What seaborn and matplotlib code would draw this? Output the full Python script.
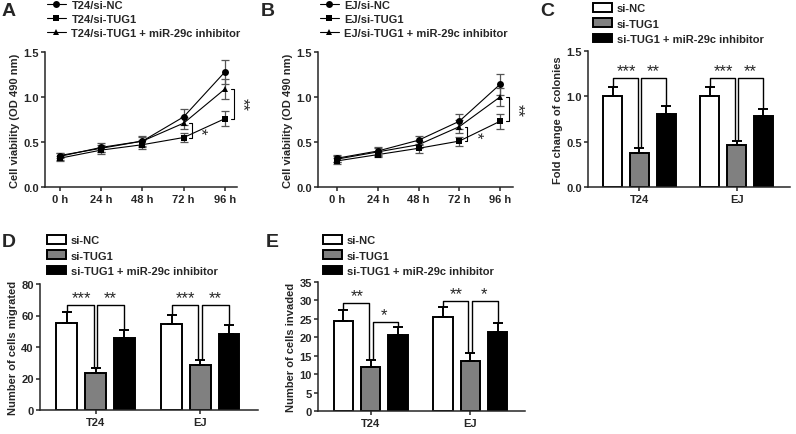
import numpy as np
import pandas as pd
import matplotlib
matplotlib.use('Agg')
import matplotlib.pyplot as plt
import seaborn as sns

# ---- data ----
times = ['0 h', '24 h', '48 h', '72 h', '96 h']
line_groups_A = ['T24/si-NC', 'T24/si-TUG1', 'T24/si-TUG1 + miR-29c inhibitor']
line_groups_B = ['EJ/si-NC', 'EJ/si-TUG1', 'EJ/si-TUG1 + miR-29c inhibitor']

a_nc = [0.34, 0.44, 0.51, 0.78, 1.28]
a_nc_err = [0.04, 0.05, 0.06, 0.09, 0.13]
a_tug = [0.32, 0.41, 0.47, 0.55, 0.76]
a_tug_err = [0.03, 0.04, 0.05, 0.05, 0.08]
a_inh = [0.35, 0.43, 0.51, 0.71, 1.09]
a_inh_err = [0.03, 0.04, 0.05, 0.07, 0.11]

b_nc = [0.32, 0.40, 0.52, 0.73, 1.14]
b_nc_err = [0.04, 0.04, 0.05, 0.08, 0.12]
b_tug = [0.29, 0.36, 0.43, 0.51, 0.73]
b_tug_err = [0.03, 0.03, 0.05, 0.05, 0.08]
b_inh = [0.31, 0.39, 0.47, 0.67, 1.00]
b_inh_err = [0.03, 0.04, 0.04, 0.07, 0.10]

cells = ['T24', 'EJ']
bar_groups = ['si-NC', 'si-TUG1', 'si-TUG1 + miR-29c inhibitor']

c_vals = [[1.00, 1.00], [0.38, 0.46], [0.80, 0.78]]
c_err = [[0.10, 0.10], [0.05, 0.05], [0.09, 0.08]]
d_vals = [[55.5, 54.5], [23.5, 28.5], [45.5, 48.5]]
d_err = [[6.5, 6.0], [3.0, 3.3], [5.5, 5.5]]
e_vals = [[24.5, 25.5], [12.0, 13.7], [20.5, 21.3]]
e_err = [[2.8, 2.8], [1.8, 2.0], [2.4, 2.5]]

# ---- style ----
sns.set_theme(style='ticks')
plt.rcParams['font.family'] = ['Liberation Sans', 'DejaVu Sans']
plt.rcParams['font.weight'] = 'bold'
plt.rcParams['axes.labelweight'] = 'bold'
plt.rcParams['axes.linewidth'] = 1.1
plt.rcParams['xtick.major.width'] = 1.1
plt.rcParams['ytick.major.width'] = 1.1
plt.rcParams['xtick.major.size'] = 3
plt.rcParams['ytick.major.size'] = 3
plt.rcParams['xtick.major.pad'] = 2
plt.rcParams['ytick.major.pad'] = 1.5
FS = 8
STAR = 12

W, H = 796, 435
fig = plt.figure(figsize=(W / 100, H / 100), dpi=100)


def px_axes(l, t, r, b):
    return fig.add_axes([l / W, 1 - b / H, (r - l) / W, (b - t) / H])


def line_panel(ax, groups, means, errs, xlim, legend_xy):
    rows = []
    for g, m in zip(groups, means):
        for i, v in enumerate(m):
            rows.append({'time': i, 'value': v, 'group': g})
    df = pd.DataFrame(rows)
    sns.lineplot(data=df, x='time', y='value', style='group', style_order=groups,
                 markers=['o', 's', '^'], dashes=False, color='black',
                 markersize=5, linewidth=0.8, markeredgewidth=0, ax=ax)
    for m, e in zip(means, errs):
        ax.errorbar(range(len(m)), m, yerr=e, fmt='none', ecolor='#555555',
                    elinewidth=0.9, capsize=2.8, capthick=0.9, zorder=1)
    ax.set_xlim(*xlim)
    ax.set_ylim(0, 1.5)
    ax.set_xticks(range(len(times)))
    ax.set_xticklabels(times, fontsize=FS, fontweight='bold')
    ax.set_yticks([0, 0.5, 1.0, 1.5])
    ax.set_yticklabels(['0.0', '0.5', '1.0', '1.5'], fontsize=FS, fontweight='bold')
    ax.set_xlabel('')
    ax.set_ylabel('Cell viability (OD 490 nm)', fontsize=FS, fontweight='bold', labelpad=2)
    sns.despine(ax=ax)
    sns.move_legend(ax, 'upper left', bbox_to_anchor=(legend_xy[0] / W, 1 - legend_xy[1] / H),
                    bbox_transform=fig.transFigure, frameon=False, title=None,
                    prop={'size': FS, 'weight': 'bold'}, handlelength=1.7,
                    handletextpad=0.5, labelspacing=0.36, borderpad=0, borderaxespad=0)
    # significance brackets between si-TUG1 and rescue
    tug, inh = means[1], means[2]
    for i, txt, off in [(3, '*', 0.2), (4, '**', 0.22)]:
        x = i + off
        ax.plot([x - 0.07, x, x, x - 0.07], [inh[i], inh[i], tug[i], tug[i]],
                color='black', lw=0.8)
        ax.text(x + 0.02, (inh[i] + tug[i]) / 2, txt, rotation=270, ha='left',
                va='center', fontsize=STAR, fontweight='normal')


def bar_panel(ax, vals, errs, ylim, yticks, ylabel, legend_xy, brackets):
    rows = []
    for g, v in zip(bar_groups, vals):
        for c, x in zip(cells, v):
            rows.append({'cell': c, 'value': x, 'group': g})
    df = pd.DataFrame(rows)
    sns.barplot(data=df, x='cell', y='value', hue='group', hue_order=bar_groups,
                palette=['white', '#808080', 'black'], edgecolor='black',
                linewidth=1.4, errorbar=None, width=0.825, gap=0.29, ax=ax)
    centers = []
    for cont, e in zip(ax.containers, errs):
        xs = [p.get_x() + p.get_width() / 2 for p in cont.patches]
        hs = [p.get_height() for p in cont.patches]
        ax.errorbar(xs, hs, yerr=[np.zeros(len(e)), e], fmt='none', ecolor='black',
                    elinewidth=1.4, capsize=3.5, capthick=1.4, zorder=1)
        centers.append(xs)
    ax.set_ylim(*ylim)
    ax.set_xlim(-0.53, 1.55)
    ax.set_yticks(yticks)
    ax.set_yticklabels([('%g' % t) if ylim[1] > 2 else '%.1f' % t for t in yticks],
                       fontsize=FS, fontweight='bold')
    ax.set_xticklabels(cells, fontsize=FS, fontweight='bold')
    ax.set_xlabel('')
    ax.set_ylabel(ylabel, fontsize=FS, fontweight='bold', labelpad=2)
    sns.despine(ax=ax)
    sns.move_legend(ax, 'upper left', bbox_to_anchor=(legend_xy[0] / W, 1 - legend_xy[1] / H),
                    bbox_transform=fig.transFigure, frameon=False, title=None,
                    prop={'size': FS, 'weight': 'bold'}, handlelength=1.7,
                    handleheight=0.85, handletextpad=0.45, labelspacing=0.45,
                    borderpad=0, borderaxespad=0)
    d = 0.018
    pad = (ylim[1] - ylim[0]) * 0.005
    for j in range(len(cells)):
        tops = [vals[k][j] + errs[k][j] for k in range(3)]
        (h1, t1), (h2, t2) = brackets[j]
        x0, x1, x2 = centers[0][j], centers[1][j], centers[2][j]
        ax.plot([x0, x0, x1 - d, x1 - d], [tops[0] + pad, h1, h1, tops[1] + pad],
                color='black', lw=1.0)
        ax.plot([x1 + d, x1 + d, x2, x2], [tops[1] + pad, h2, h2, tops[2] + pad],
                color='black', lw=1.0)
        ax.text((x0 + x1) / 2, h1, t1, ha='center', va='bottom', fontsize=STAR,
                fontweight='normal')
        ax.text((x1 + x2) / 2, h2, t2, ha='center', va='bottom', fontsize=STAR,
                fontweight='normal')


# A
axA = px_axes(45, 53, 237, 188)
line_panel(axA, line_groups_A, [a_nc, a_tug, a_inh], [a_nc_err, a_tug_err, a_inh_err],
           (-0.36, 4.29), (47, 1))
# B
axB = px_axes(318, 53, 513, 188)
line_panel(axB, line_groups_B, [b_nc, b_tug, b_inh], [b_nc_err, b_tug_err, b_inh_err],
           (-0.47, 4.32), (320, 1))
# C
axC = px_axes(588, 52, 790, 188)
bar_panel(axC, c_vals, c_err, (0, 1.5), [0, 0.5, 1.0, 1.5], 'Fold change of colonies',
          (593, 4), [((1.2, '***'), (1.2, '**')), ((1.2, '***'), (1.2, '**'))])
# D
axD = px_axes(40, 285, 258, 411)
bar_panel(axD, d_vals, d_err, (0, 80), [0, 20, 40, 60, 80], 'Number of cells migrated',
          (47, 236), [((66.5, '***'), (66.5, '**')), ((66.5, '***'), (66.5, '**'))])
# E
axE = px_axes(318, 283, 525, 412)
bar_panel(axE, e_vals, e_err, (0, 35), [0, 5, 10, 15, 20, 25, 30, 35],
          'Number of cells invaded', (323, 236),
          [((29.3, '**'), (24.1, '*')), ((29.8, '**'), (29.8, '*'))])

for lbl, x, y in [('A', 2, 3), ('B', 261, 3), ('C', 540, 3), ('D', 2, 234), ('E', 266, 234)]:
    fig.text(x / W, 1 - y / H, lbl, fontsize=14, fontweight='bold', ha='left', va='top')

fig.savefig('out.png', dpi=100)
